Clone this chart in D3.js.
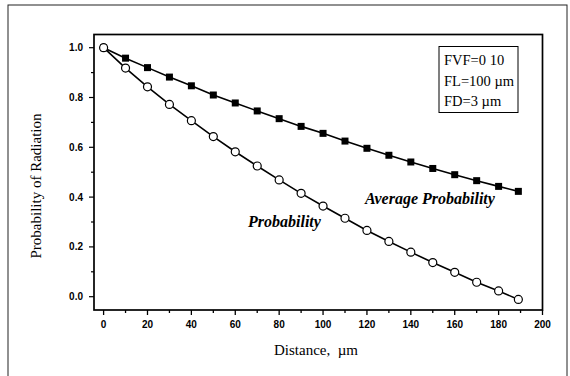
<html>
<head>
<script src="https://cdn.jsdelivr.net/npm/d3@7"></script>
<style>
body { margin: 0; background: #fff; }
</style>
</head>
<body>
<script>
// data
var distance = [0, 10, 20, 30, 40, 50, 60, 70, 80, 90, 100, 110, 120, 130, 140, 150, 160, 170, 180, 189];
var probability = [1.0, 0.918, 0.843, 0.772, 0.707, 0.643, 0.582, 0.525, 0.469, 0.415, 0.364, 0.315, 0.266, 0.222, 0.179, 0.137, 0.098, 0.058, 0.023, -0.011];
var avgProbability = [1.0, 0.958, 0.920, 0.882, 0.847, 0.810, 0.778, 0.746, 0.715, 0.684, 0.656, 0.625, 0.596, 0.568, 0.541, 0.515, 0.490, 0.466, 0.443, 0.423];
var xTicks = [0, 20, 40, 60, 80, 100, 120, 140, 160, 180, 200];
var yTicks = [0.0, 0.2, 0.4, 0.6, 0.8, 1.0];
var legendLines = ["FVF=0 10", "FL=100 \u00b5m", "FD=3 \u00b5m"];

var width = 570, height = 376;
var frame = {left: 94, right: 542.5, top: 34.5, bottom: 310};
var serif = '"Liberation Serif", "Times New Roman", serif';

var x = d3.scaleLinear().domain([0, 200]).range([103.6, 542.5]);
var y = d3.scaleLinear().domain([0, 1]).range([296.7, 47.7]);

var svg = d3.select('body').append('svg')
	.attr('width', width)
	.attr('height', height);

// outer border of the picture
svg.append('rect')
	.attr('x', 8).attr('y', 5)
	.attr('width', 559).attr('height', 380)
	.attr('fill', 'none').attr('stroke', '#222').attr('stroke-width', 1);

// plot frame
svg.append('rect')
	.attr('x', frame.left).attr('y', frame.top)
	.attr('width', frame.right - frame.left).attr('height', frame.bottom - frame.top)
	.attr('fill', 'none').attr('stroke', '#000').attr('stroke-width', 1.7);

// x axis ticks (major + minor)
var xMinor = d3.range(0, 201, 10);
svg.selectAll('.xtick').data(xMinor).enter().append('line')
	.attr('x1', function(d){ return x(d); })
	.attr('x2', function(d){ return x(d); })
	.attr('y1', frame.bottom)
	.attr('y2', function(d){ return frame.bottom + (d % 20 === 0 ? 5 : 3); })
	.attr('stroke', '#000').attr('stroke-width', 1.3);

svg.selectAll('.xlab').data(xTicks).enter().append('text')
	.attr('x', function(d){ return x(d); })
	.attr('y', 328)
	.attr('text-anchor', 'middle')
	.style('font', 'bold 10px Arial, "Liberation Sans", sans-serif')
	.text(function(d){ return d; });

// y axis ticks
var yMinor = d3.range(0, 11).map(function(i){ return i / 10; });
svg.selectAll('.ytick').data(yMinor).enter().append('line')
	.attr('x1', frame.left)
	.attr('x2', function(d, i){ return frame.left - (i % 2 === 0 ? 5 : 3); })
	.attr('y1', function(d){ return y(d); })
	.attr('y2', function(d){ return y(d); })
	.attr('stroke', '#000').attr('stroke-width', 1.2);

svg.selectAll('.ylab').data(yTicks).enter().append('text')
	.attr('x', 83)
	.attr('y', function(d){ return y(d) + 3.5; })
	.attr('text-anchor', 'end')
	.style('font', 'bold 10px Arial, "Liberation Sans", sans-serif')
	.text(function(d){ return d.toFixed(1); });

// axis titles
svg.append('text')
	.attr('x', 316).attr('y', 355)
	.attr('text-anchor', 'middle')
	.style('font', '15px ' + serif)
	.text('Distance,\u00a0\u00a0\u00b5m');

svg.append('text')
	.attr('transform', 'translate(41,186) rotate(-90)')
	.attr('text-anchor', 'middle')
	.style('font', '15px ' + serif)
	.text('Probability of Radiation');

// series lines
var line = d3.line()
	.x(function(d){ return x(d[0]); })
	.y(function(d){ return y(d[1]); });

var avgPts = d3.zip(distance, avgProbability);
var probPts = d3.zip(distance, probability);

svg.append('path').datum(avgPts).attr('d', line)
	.attr('fill', 'none').attr('stroke', '#000').attr('stroke-width', 1.6);
svg.append('path').datum(probPts).attr('d', line)
	.attr('fill', 'none').attr('stroke', '#000').attr('stroke-width', 1.6);

// markers
svg.selectAll('.sq').data(avgPts).enter().append('rect')
	.attr('x', function(d){ return x(d[0]) - 3.5; })
	.attr('y', function(d){ return y(d[1]) - 3.5; })
	.attr('width', 7).attr('height', 7)
	.attr('fill', '#000');

svg.selectAll('.ci').data(probPts).enter().append('circle')
	.attr('cx', function(d){ return x(d[0]); })
	.attr('cy', function(d){ return y(d[1]); })
	.attr('r', 4)
	.attr('fill', '#fff').attr('stroke', '#000').attr('stroke-width', 1.2);

// annotations
svg.append('text')
	.attr('x', 365).attr('y', 204)
	.style('font', 'italic bold 16px ' + serif)
	.text('Average Probability');

svg.append('text')
	.attr('x', 248).attr('y', 227)
	.style('font', 'italic bold 16px ' + serif)
	.text('Probability');

// parameter box
svg.append('rect')
	.attr('x', 439).attr('y', 46.5)
	.attr('width', 79).attr('height', 66)
	.attr('fill', '#fff').attr('stroke', '#000').attr('stroke-width', 1);

svg.selectAll('.leg').data(legendLines).enter().append('text')
	.attr('x', 444)
	.attr('y', function(d, i){ return 65 + i * 20.5; })
	.style('font', '14.5px ' + serif)
	.text(function(d){ return d; });
</script>
</body>
</html>
